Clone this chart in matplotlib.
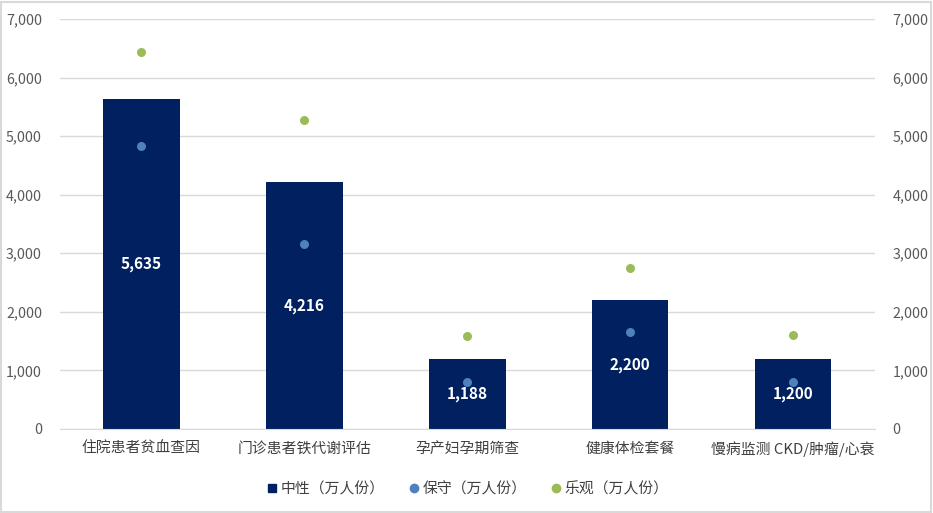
import matplotlib.pyplot as plt
from matplotlib.patches import Rectangle
from matplotlib.lines import Line2D
from matplotlib.ticker import FuncFormatter

plt.rcParams['font.family'] = ['Noto Sans CJK SC', 'DejaVu Sans']

# --- 数据 ---
categories = ["住院患者贫血查因", "门诊患者铁代谢评估", "孕产妇孕期筛查", "健康体检套餐", "慢病监测 CKD/肿瘤/心衰"]
neutral = [5635, 4216, 1188, 2200, 1200]
conservative = [4830, 3160, 800, 1650, 800]
optimistic = [6430, 5275, 1580, 2750, 1600]
series_names = ["中性（万人份）", "保守（万人份）", "乐观（万人份）"]

BAR_C = "#002060"
BLUE_C = "#4f81bd"
GREEN_C = "#9bbb59"
TICK_C = "#595959"

fig = plt.figure(figsize=(9.33, 5.13), dpi=100)
ax = fig.add_axes([60 / 933, 1 - 429 / 513, 814.5 / 933, 410 / 513])

x = list(range(len(categories)))
ax.bar(x, neutral, width=0.47, color=BAR_C, zorder=2)
ax.scatter(x, conservative, s=42, color=BLUE_C, zorder=3, linewidths=0)
ax.scatter(x, optimistic, s=42, color=GREEN_C, zorder=3, linewidths=0)

for xi, v in zip(x, neutral):
    ax.text(xi, v / 2, f"{v:,}", ha="center", va="center", color="white",
            fontsize=11, fontweight="bold", zorder=4)

ax.set_xlim(-0.5, len(categories) - 0.5)
ax.set_ylim(0, 7000)
ax.set_yticks(range(0, 7001, 1000))
fmt = FuncFormatter(lambda v, p: f"{int(v):,}")
ax.yaxis.set_major_formatter(fmt)
ax.grid(axis="y", color="#d9d9d9", linewidth=1, zorder=0)
ax.set_axisbelow(True)
for s in ["top", "right", "left"]:
    ax.spines[s].set_visible(False)
ax.spines["bottom"].set_color("#d9d9d9")
ax.set_xticks(x)
ax.set_xticklabels(categories, fontsize=10.7, color="#404040")
ax.tick_params(axis="x", length=0, pad=9)
ax.tick_params(axis="y", length=0, pad=13, labelsize=10.3, labelcolor=TICK_C)

ax2 = ax.twinx()
ax2.set_ylim(0, 7000)
ax2.set_yticks(range(0, 7001, 1000))
ax2.yaxis.set_major_formatter(fmt)
for s in ax2.spines.values():
    s.set_visible(False)
ax2.tick_params(axis="y", length=0, pad=13, labelsize=10.3, labelcolor=TICK_C)

handles = [
    Line2D([], [], marker="s", linestyle="", color=BAR_C, markersize=6),
    Line2D([], [], marker="o", linestyle="", color=BLUE_C, markersize=6),
    Line2D([], [], marker="o", linestyle="", color=GREEN_C, markersize=6),
]
fig.legend(handles, series_names, loc="center", bbox_to_anchor=(0.5, 1 - 489 / 513),
           ncol=3, frameon=False, fontsize=10.7, handletextpad=0.05, columnspacing=1.5,
           handlelength=1.0, labelcolor="#404040")

fig.patches.append(Rectangle((0.001, 0.002), 0.997, 0.995, transform=fig.transFigure,
                             fill=False, edgecolor="#d9d9d9", linewidth=1.5))

fig.savefig("out.png", dpi=100)
